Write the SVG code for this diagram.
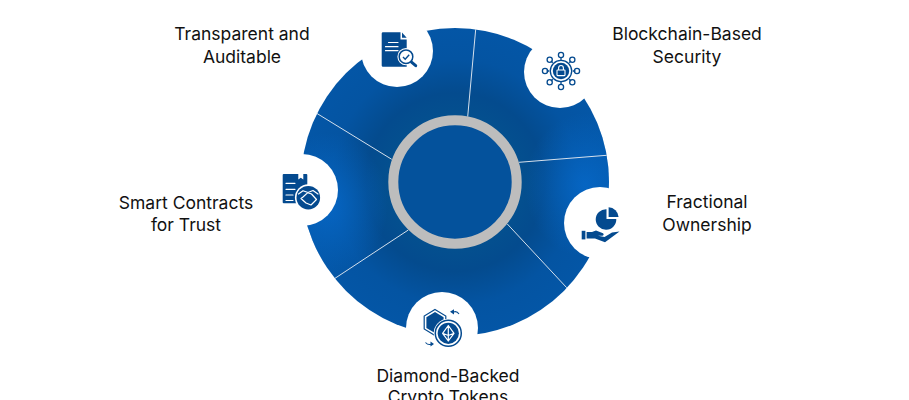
<svg xmlns="http://www.w3.org/2000/svg" width="909" height="400" viewBox="0 0 909 400">
<style>
.t{font-family:Inter,"Liberation Sans",sans-serif;font-size:17.5px;fill:#111;text-anchor:middle}
.bub{fill:#fff}
.f{fill:#044a8f}
.w{fill:#fff}
.s{fill:none;stroke:#044a8f;stroke-width:1.3}
.ws{fill:none;stroke:#fff;stroke-width:1.2;stroke-linecap:round;stroke-linejoin:round}
.div{stroke:#d5e0ec;stroke-width:1;fill:none}
</style>
<defs>
<radialGradient id="disc" gradientUnits="userSpaceOnUse" cx="455" cy="182" r="154">
<stop offset="0" stop-color="#04529c"/>
<stop offset="0.42" stop-color="#04508f"/>
<stop offset="0.58" stop-color="#044b8e"/>
<stop offset="0.8" stop-color="#0454a2"/>
<stop offset="1" stop-color="#0456a6"/>
</radialGradient>
<radialGradient id="glowR" gradientUnits="userSpaceOnUse" cx="0" cy="0" r="60">
<stop offset="0" stop-color="#0668c8" stop-opacity=".85"/>
<stop offset="1" stop-color="#0668c8" stop-opacity="0"/>
</radialGradient>
<clipPath id="dc"><circle cx="455" cy="182" r="154"/></clipPath>
</defs>

<g id="wheel">
<circle cx="455" cy="182" r="154" fill="url(#disc)"/>
<g clip-path="url(#dc)">
<circle r="60" fill="url(#glowR)" transform="translate(585 185) scale(1 1.2)"/>
<circle r="60" fill="url(#glowR)" transform="translate(328 205) scale(1 1.2)"/>
</g>
</g>

<g id="connectors">
<path class="div" d="M467.7 116.7L475.7 29.3"/>
<path class="div" d="M519 162.3L606.7 155.3"/>
<path class="div" d="M507.3 224L566.7 287.7"/>
<path class="div" d="M408.3 230L335 278.3"/>
<path class="div" d="M391.7 159.3L316.7 113.3"/>
</g>

<g id="hub">
<circle cx="455" cy="182" r="61.7" fill="#04529c" stroke="#bdbdbd" stroke-width="10"/>
</g>

<g id="node-transparent">
<circle class="bub" cx="397" cy="51" r="36"/>
<path class="f" d="M383 32.3H400.5V39.5H406.7V66.7H383Q381.7 66.7 381.7 65.4V33.6Q381.7 32.3 383 32.3Z"/>
<path class="f" d="M402 32.5L406.7 37.8H402Z"/>
<path class="ws" d="M388.5 42.5H398M385.5 46.7H398M385.5 50.7H398"/>
<circle cx="406" cy="56.7" r="8.6" class="w"/>
<circle cx="406" cy="56.7" r="6.8" fill="none" stroke="#044a8f" stroke-width="1.5"/>
<path d="M403 57L405.2 59.2L409.2 54.8" fill="none" stroke="#044a8f" stroke-width="1.4"/>
<path d="M411.5 62.2L415.7 65.7" stroke="#044a8f" stroke-width="3" stroke-linecap="round"/>
<text class="t" x="242" y="40">Transparent and</text>
<text class="t" x="242" y="63">Auditable</text>
</g>

<g id="node-security">
<circle class="bub" cx="560" cy="72" r="36"/>
<path class="s" d="M561 60.3V57.6M561 81.7V84.4M549.3 71H546.6M572.7 71H575.4M552.7 62.7L550.9 60.9M569.3 62.7L571.1 60.9M552.7 79.3L550.9 81.1M569.3 79.3L571.1 81.1"/>
<circle class="s" cx="561" cy="71" r="10.7"/>
<circle class="f" cx="561" cy="71" r="8.2"/>
<g class="s">
<circle cx="561" cy="55" r="2.6"/><circle cx="561" cy="87" r="2.6"/><circle cx="545" cy="71" r="2.6"/><circle cx="577" cy="71" r="2.6"/>
<circle cx="549.7" cy="59.7" r="2.6"/><circle cx="572.3" cy="59.7" r="2.6"/><circle cx="549.7" cy="82.3" r="2.6"/><circle cx="572.3" cy="82.3" r="2.6"/>
</g>
<rect x="557" y="70" width="8" height="5.6" rx=".6" fill="none" stroke="#fff" stroke-width="1.1"/>
<path d="M558.6 70V67.9a2.4 2.4 0 0 1 4.8 0V70" fill="none" stroke="#fff" stroke-width="1.1"/>
<text class="t" x="687" y="40">Blockchain-Based</text>
<text class="t" x="687" y="63">Security</text>
</g>

<g id="node-ownership">
<circle class="bub" cx="600" cy="223" r="36"/>
<path class="f" d="M606.5 209.2V219H616.3A10.3 10.3 0 1 1 606.5 209.2Z"/>
<path class="f" d="M608.6 207.2A10.5 10.5 0 0 1 618.6 217H608.6Z"/>
<rect class="f" x="581.7" y="230.8" width="3.7" height="8.6"/>
<path class="f" d="M586.6 232H592L596 230.5L603 233.3Q604.5 235 602.5 235.8H598L604.5 237L612 232.5L619.5 231.5L605 242.3L595 238.5H586.6Z"/>
<text class="t" x="707" y="208">Fractional</text>
<text class="t" x="707" y="231">Ownership</text>
</g>

<g id="node-diamond">
<circle class="bub" cx="442" cy="328" r="36"/>
<path d="M435 309.5L445.8 316V329L435 335.5L424.2 329V316Z" fill="none" stroke="#044a8f" stroke-width="1.2"/>
<path class="f" d="M435 312L443.6 317.2V328L435 333L426.4 328V317.2Z"/>
<circle cx="448.3" cy="333.3" r="14.6" class="w"/>
<circle cx="448.3" cy="333.3" r="13" fill="none" stroke="#044a8f" stroke-width="1.5"/>
<circle class="f" cx="448.3" cy="333.3" r="10.6"/>
<path class="ws" d="M448.3 325.5L454 333.3L448.3 341L442.6 333.3ZM442.6 333.3L448.3 335.5L454 333.3M448.3 325.5V341" stroke-width=".9"/>
<path d="M453.5 312Q457 310.8 459 314" fill="none" stroke="#044a8f" stroke-width="1.1"/>
<path class="f" d="M450 311.8L454 309.2V314.5Z"/>
<path d="M425.5 342.5Q428 345.3 431 344.3" fill="none" stroke="#044a8f" stroke-width="1.1"/>
<path class="f" d="M434 344L430.5 341.5V346.5Z"/>
<text class="t" x="448" y="382">Diamond-Backed</text>
<text class="t" x="448" y="403">Crypto Tokens</text>
</g>

<g id="node-contracts">
<circle class="bub" cx="302" cy="190" r="36"/>
<rect class="f" x="282.7" y="174" width="24.6" height="29.3" rx="1"/>
<path class="w" d="M298.3 174H303.3V179.5L300.8 177.8L298.3 179.5Z"/>
<path class="ws" d="M286 183.3H295M286 189.3H295M286 195H293M286 200.5H293"/>
<circle class="w" cx="308.3" cy="197.7" r="13.4"/>
<circle class="f" cx="308.3" cy="197.7" r="11.8"/>
<path class="ws" d="M298.5 194L303 190.8L308 192.5L313 190.5L318 194M303 197L307.8 192.6L311.5 194L316.5 199.5L311 205L306 203L301 198.5Z" stroke-width=".9"/>
<text class="t" x="186" y="209">Smart Contracts</text>
<text class="t" x="186" y="231">for Trust</text>
</g>
</svg>
